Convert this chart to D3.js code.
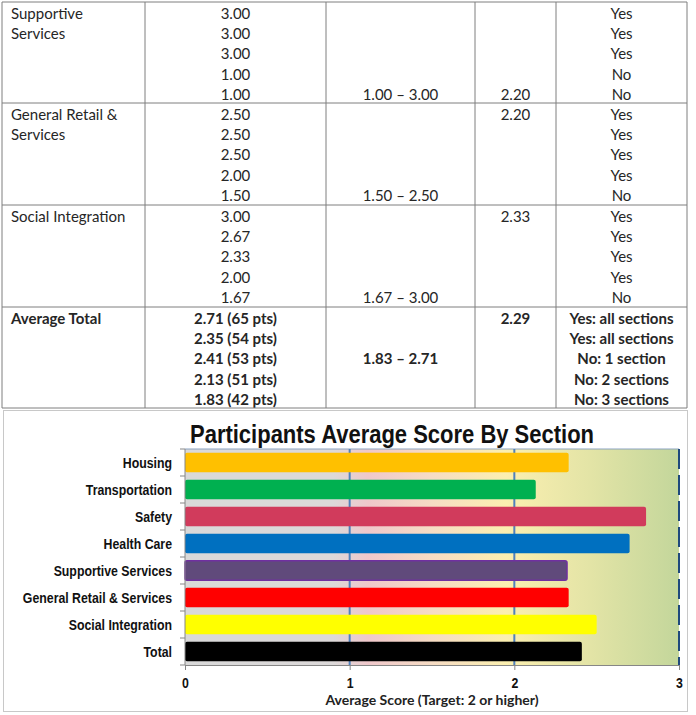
<!DOCTYPE html>
<html>
<head>
<meta charset="utf-8">
<script src="https://cdn.jsdelivr.net/npm/d3@7"></script>
<style>
  body { margin: 0; background: #fff; }
  .cell { font-family: Lato, "Open Sans", sans-serif; font-size: 15px; fill: #262626; }
  .lbl { font-family: "Liberation Sans", Arial, sans-serif; font-weight: bold; fill: #111; }
</style>
</head>
<body>
<div id="chart"></div>
<script>
// table data
const sectionLabels = [["Supportive", "Services"], ["General Retail &", "Services"], ["Social Integration"], ["Average Total"]];
const sectionScores = [
  ["3.00", "3.00", "3.00", "1.00", "1.00"],
  ["2.50", "2.50", "2.50", "2.00", "1.50"],
  ["3.00", "2.67", "2.33", "2.00", "1.67"],
  ["2.71 (65 pts)", "2.35 (54 pts)", "2.41 (53 pts)", "2.13 (51 pts)", "1.83 (42 pts)"]
];
const sectionRanges = ["1.00 \u2013 3.00", "1.50 \u2013 2.50", "1.67 \u2013 3.00", "1.83 \u2013 2.71"];
const sectionAverages = ["2.20", "2.20", "2.33", "2.29"];
const targetMet = [
  ["Yes", "Yes", "Yes", "No", "No"],
  ["Yes", "Yes", "Yes", "Yes", "No"],
  ["Yes", "Yes", "Yes", "Yes", "No"],
  ["Yes: all sections", "Yes: all sections", "No: 1 section", "No: 2 sections", "No: 3 sections"]
];

// chart data
const categories = ["Housing", "Transportation", "Safety", "Health Care", "Supportive Services",
  "General Retail & Services", "Social Integration", "Total"];
const scores = [2.33, 2.13, 2.80, 2.70, 2.32, 2.33, 2.50, 2.41];
const xTicks = [0, 1, 2, 3];
const barColors = ["#ffc000", "#00b050", "#d13b5c", "#0070c0", "#604a7b", "#ff0000", "#ffff00", "#000000"];

const width = 696, height = 715;

const svg = d3.select('#chart').append('svg')
  .attr('width', width).attr('height', height);

// ---------- table ----------
const colEdges = [2, 145, 326, 475, 556, 687];
const rowTops = [2, 103, 205, 307, 408];
const lineGap = 20.2, firstLine = 17;

const tbl = svg.append('g');
sectionLabels.forEach(function(lines, r) {
  const top = rowTops[r];
  const bold = r === 3;
  const lineY = function(i) { return top + firstLine + i * lineGap; };
  const t = function(x, y, txt, anchor) {
    tbl.append('text').attr('class', 'cell')
      .attr('x', x).attr('y', y)
      .attr('text-anchor', anchor)
      .style('font-weight', bold ? 'bold' : 'normal')
      .text(txt);
  };
  lines.forEach(function(l, i) { t(colEdges[0] + 9, lineY(i), l, 'start'); });
  sectionScores[r].forEach(function(s, i) { t((colEdges[1] + colEdges[2]) / 2, lineY(i), s, 'middle'); });
  t((colEdges[2] + colEdges[3]) / 2, lineY(bold ? 2 : 4), sectionRanges[r], 'middle');
  t((colEdges[3] + colEdges[4]) / 2, lineY(r === 0 ? 4 : 0), sectionAverages[r], 'middle');
  targetMet[r].forEach(function(s, i) { t((colEdges[4] + colEdges[5]) / 2, lineY(i), s, 'middle'); });
});
rowTops.forEach(function(y) {
  tbl.append('line').attr('x1', colEdges[0]).attr('x2', colEdges[5])
    .attr('y1', y).attr('y2', y).attr('stroke', '#7f7f7f');
});
colEdges.forEach(function(x) {
  tbl.append('line').attr('x1', x).attr('x2', x)
    .attr('y1', rowTops[0]).attr('y2', rowTops[4]).attr('stroke', '#7f7f7f');
});

// ---------- chart ----------
svg.append('rect').attr('x', 3.5).attr('y', 410.5).attr('width', 684).attr('height', 301)
  .attr('fill', '#fff').attr('stroke', '#c8c8c8');

const x = d3.scaleLinear().domain([0, 3]).range([185, 679]);
const y = d3.scaleBand().domain(categories).range([449, 665]).paddingInner(0.28).paddingOuter(0.14);

const defs = svg.append('defs');
const grad = defs.append('linearGradient').attr('id', 'bg')
  .attr('x1', '0%').attr('x2', '100%').attr('y1', '0%').attr('y2', '0%');
[[0, '#d9d9d9'], [0.3, '#dcd9d9'], [0.37, '#efc8cb'], [0.5, '#f6dcc4'],
 [0.65, '#fbefb0'], [0.82, '#e3e4a6'], [1, '#c3d69b']].forEach(function(s) {
  grad.append('stop').attr('offset', s[0]).attr('stop-color', s[1]);
});

svg.append('rect').attr('x', x(0)).attr('y', 449).attr('width', x(3) - x(0)).attr('height', 216)
  .attr('fill', 'url(#bg)');
svg.append('line').attr('x1', x(0)).attr('x2', x(3)).attr('y1', 449).attr('y2', 449)
  .attr('stroke', '#8aa2c0');

// gridlines
svg.selectAll('.grid').data([1, 2]).enter().append('line')
  .attr('x1', d => x(d)).attr('x2', d => x(d)).attr('y1', 449).attr('y2', 665)
  .attr('stroke', '#4f81bd').attr('stroke-width', 2);
svg.append('line').attr('x1', x(3)).attr('x2', x(3)).attr('y1', 449).attr('y2', 665)
  .attr('stroke', '#1f497d').attr('stroke-width', 2).attr('stroke-dasharray', '20,6');

// bars
svg.selectAll('.bar').data(categories).enter().append('rect')
  .attr('x', x(0))
  .attr('y', d => y(d))
  .attr('width', (d, i) => x(scores[i]) - x(0))
  .attr('height', y.bandwidth())
  .attr('rx', 2)
  .attr('fill', (d, i) => barColors[i])
  .attr('stroke', (d, i) => i === 4 ? '#7030a0' : 'none')
  .attr('stroke-width', 1.5);

// y axis
svg.append('line').attr('x1', x(0)).attr('x2', x(0)).attr('y1', 449).attr('y2', 665)
  .attr('stroke', '#868686');
const bounds = categories.map(d => y(d) - y.step() * y.paddingInner() / 2).concat([665]);
svg.selectAll('.ytick').data(bounds).enter().append('line')
  .attr('x1', x(0) - 5).attr('x2', x(0)).attr('y1', d => d).attr('y2', d => d)
  .attr('stroke', '#868686');
svg.selectAll('.ylab').data(categories).enter().append('text')
  .attr('class', 'lbl')
  .attr('transform', d => 'translate(' + (x(0) - 13) + ',' + (y(d) + y.bandwidth() / 2) + ') scale(0.85,1)')
  .attr('dy', '0.35em')
  .attr('text-anchor', 'end')
  .attr('font-size', '14.5px')
  .text(d => d);

// x axis
const xAxis = svg.append('g').attr('transform', 'translate(0,665)')
  .call(d3.axisBottom(x).tickValues(xTicks).tickSize(5).tickPadding(8).tickFormat(d3.format('d')));
xAxis.select('.domain').attr('stroke', '#868686');
xAxis.selectAll('.tick line').attr('stroke', '#868686');
xAxis.selectAll('text').attr('class', 'lbl').attr('font-size', '14.5px')
  .attr('transform', 'scale(0.85,1)');

svg.append('text')
  .attr('x', 432).attr('y', 705)
  .attr('text-anchor', 'middle')
  .style('font-family', 'Lato, sans-serif').style('font-weight', 'bold').style('font-size', '14px')
  .attr('fill', '#222')
  .text('Average Score (Target: 2 or higher)');

svg.append('text').attr('class', 'lbl')
  .attr('transform', 'translate(392,443) scale(0.88,1)')
  .attr('text-anchor', 'middle')
  .attr('font-size', '25px')
  .text('Participants Average Score By Section');
</script>
</body>
</html>
